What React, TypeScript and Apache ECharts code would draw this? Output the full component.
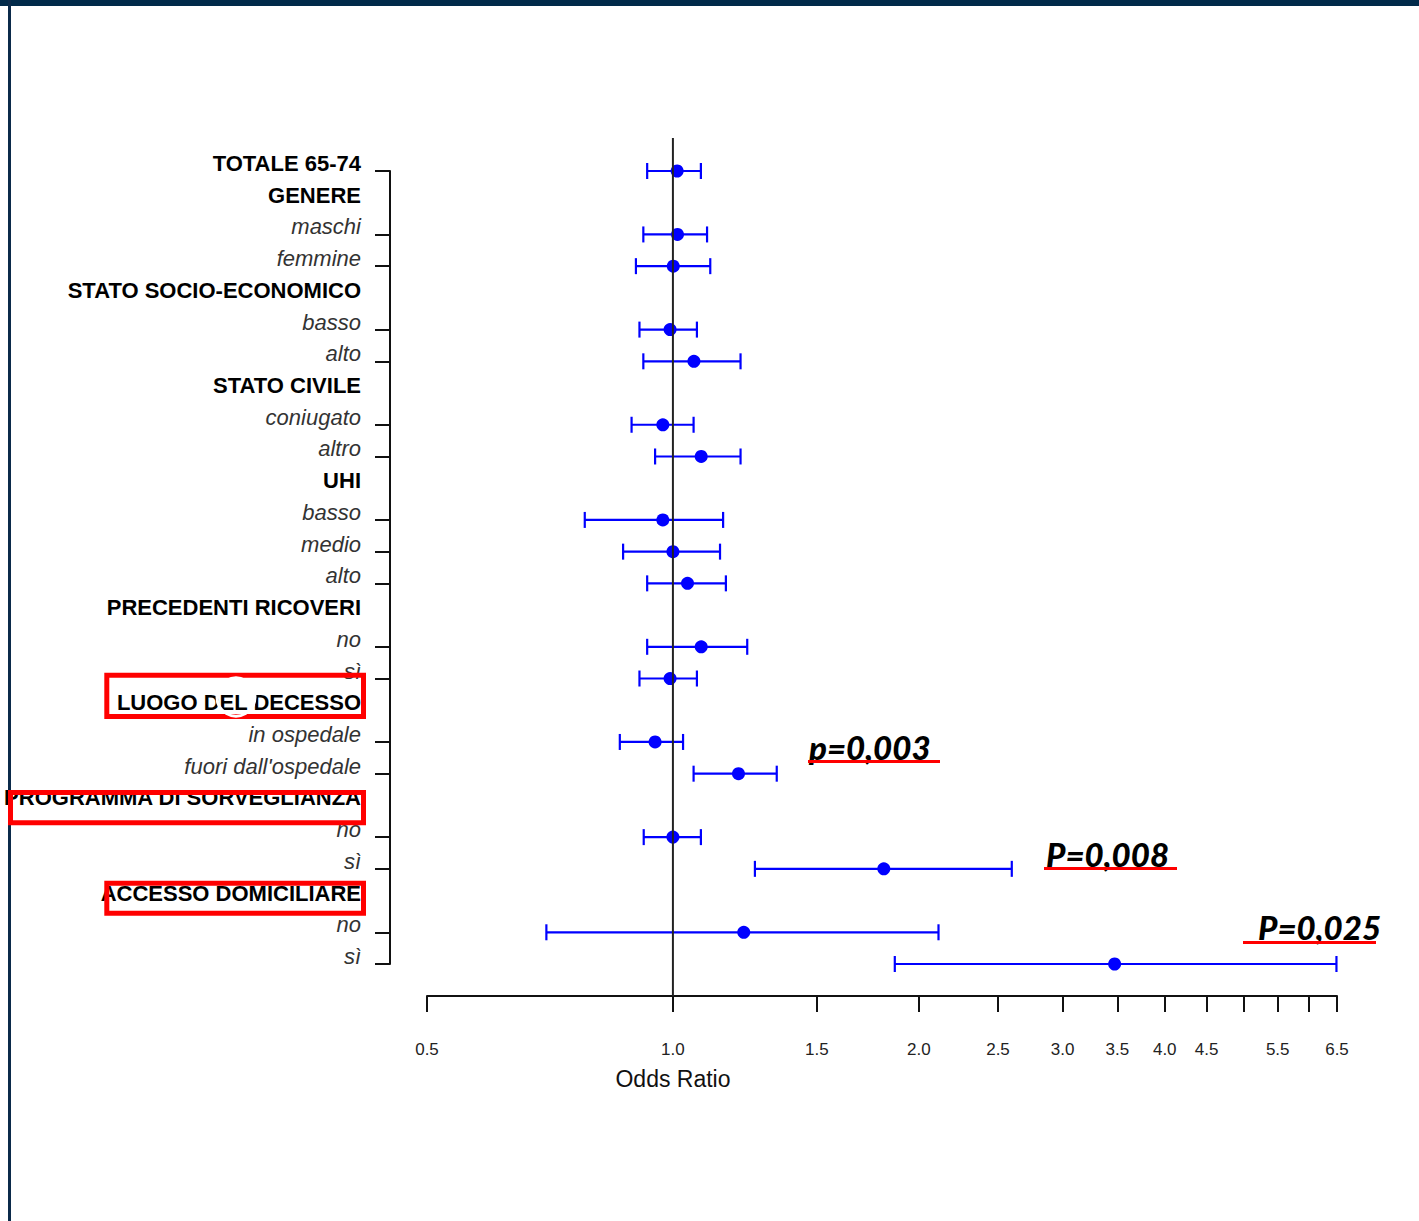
import React, { useEffect, useRef } from "react";
import * as echarts from "echarts";

const categories = [
  "TOTALE 65-74", "GENERE", "maschi", "femmine", "STATO SOCIO-ECONOMICO", "basso", "alto",
  "STATO CIVILE", "coniugato", "altro", "UHI", "basso", "medio", "alto",
  "PRECEDENTI RICOVERI", "no", "sì", "LUOGO DEL DECESSO", "in ospedale", "fuori dall'ospedale",
  "PROGRAMMA DI SORVEGLIANZA", "no", "sì", "ACCESSO DOMICILIARE", "no", "sì",
];
const headerRows = [0, 1, 4, 7, 10, 14, 17, 20, 23];

const oddsRatio = [1.012, null, 1.013, 1.001, null, 0.992, 1.061, null, 0.972, 1.083, null, 0.972, 1.0, 1.042, null, 1.083, 0.992, null, 0.951, 1.203, null, 1.0, 1.812, null, 1.221, 3.473];
const ciLower = [0.93, null, 0.92, 0.901, null, 0.91, 0.92, null, 0.89, 0.951, null, 0.78, 0.869, 0.93, null, 0.93, 0.91, null, 0.861, 1.06, null, 0.921, 1.26, null, 0.7, 1.869];
const ciUpper = [1.082, null, 1.101, 1.111, null, 1.07, 1.21, null, 1.06, 1.21, null, 1.152, 1.142, 1.161, null, 1.233, 1.07, null, 1.029, 1.34, null, 1.082, 2.599, null, 2.114, 6.49];

const xTicks = [0.5, 1.0, 1.5, 2.0, 2.5, 3.0, 3.5, 4.0, 4.5, 5.0, 5.5, 6.0, 6.5];
const xTickLabels = [0.5, 1.0, 1.5, 2.0, 2.5, 3.0, 3.5, 4.0, 4.5, 5.5, 6.5];
const xMin = 0.5;
const xMax = 6.5;
const referenceOR = 1.0;

const pValues = ["p=0,003", "P=0,008", "P=0,025"];

export default function App() {
  const ref = useRef<HTMLDivElement>(null);
  useEffect(() => {
    if (!ref.current) return;
    const chart = echarts.init(ref.current, null, { renderer: "svg" });
    const ln = Math.log;
    const barData: any[] = [];
    const pointData: any[] = [];
    oddsRatio.forEach((v, i) => {
      if (v == null) return;
      barData.push([ln(ciLower[i] as number), ln(ciUpper[i] as number), i]);
      pointData.push([ln(v), i]);
    });
    const blue = "#0000ff";
    const font = "Liberation Sans, Arial, sans-serif";
    const pFont = "italic 900 33px Lato, 'Open Sans', sans-serif";
    const red = "#ff0000";

    const option: any = {
      animation: false,
      backgroundColor: "#ffffff",
      grid: [
        { left: 427, right: 82, top: 171, bottom: 257 },
        { left: 427, right: 82, top: 138, bottom: 225 },
      ],
      xAxis: [
        { type: "value", gridIndex: 0, min: ln(xMin), max: ln(xMax), show: false },
        {
          type: "value",
          gridIndex: 1,
          min: ln(xMin),
          max: ln(xMax),
          splitLine: { show: false },
          axisLine: { show: true, onZero: false, lineStyle: { color: "#111", width: 2 } },
          axisTick: {
            show: true,
            length: 16,
            lineStyle: { color: "#111", width: 2 },
            customValues: xTicks.map((t) => ln(t)),
          },
          axisLabel: {
            customValues: xTickLabels.map((t) => ln(t)),
            formatter: (v: number) => Math.exp(v).toFixed(1),
            margin: 45,
            fontSize: 17,
            color: "#222",
            fontFamily: font,
          },
          name: "Odds Ratio",
          nameLocation: "middle",
          nameGap: 71,
          nameTextStyle: { fontSize: 23, color: "#111", fontFamily: font, padding: [0, 418, 0, 0] },
        },
      ],
      yAxis: [
        {
          type: "category",
          gridIndex: 0,
          data: categories,
          inverse: true,
          boundaryGap: false,
          offset: 37,
          axisLine: { show: true, onZero: false, lineStyle: { color: "#111", width: 2 } },
          axisTick: {
            show: true,
            length: 15,
            lineStyle: { color: "#111", width: 2 },
            interval: (index: number) => oddsRatio[index] != null,
          },
          axisLabel: {
            interval: 0,
            margin: 29,
            padding: [0, 0, 15, 0],
            formatter: (value: string, index: number) =>
              headerRows.includes(index) ? `{h|${value}}` : `{s|${value}}`,
            rich: {
              h: { fontSize: 22, fontWeight: "bold", color: "#000", fontFamily: font },
              s: { fontSize: 22, fontStyle: "italic", color: "#333", fontFamily: font },
            },
          },
          splitLine: { show: false },
        },
        { type: "value", gridIndex: 1, min: 0, max: 1, show: false },
      ],
      series: [
        {
          type: "custom",
          xAxisIndex: 0,
          yAxisIndex: 0,
          data: barData,
          encode: { x: [0, 1], y: 2 },
          renderItem: (params: any, api: any) => {
            const row = api.value(2);
            const p1 = api.coord([api.value(0), row]);
            const p2 = api.coord([api.value(1), row]);
            const cap = 8;
            const style = { stroke: blue, lineWidth: 2.2 };
            return {
              type: "group",
              children: [
                { type: "line", shape: { x1: p1[0], y1: p1[1], x2: p2[0], y2: p2[1] }, style },
                { type: "line", shape: { x1: p1[0], y1: p1[1] - cap, x2: p1[0], y2: p1[1] + cap }, style },
                { type: "line", shape: { x1: p2[0], y1: p2[1] - cap, x2: p2[0], y2: p2[1] + cap }, style },
              ],
            };
          },
          z: 2,
        },
        {
          type: "scatter",
          xAxisIndex: 0,
          yAxisIndex: 0,
          data: pointData,
          symbol: "circle",
          symbolSize: 13,
          itemStyle: { color: blue, opacity: 1 },
          z: 3,
        },
        {
          type: "line",
          xAxisIndex: 1,
          yAxisIndex: 1,
          data: [[ln(referenceOR), 0], [ln(referenceOR), 1]],
          symbol: "none",
          lineStyle: { color: "#222", width: 2 },
          z: 10,
        },
      ],
      graphic: [
        { type: "rect", z: 100, shape: { x: 0, y: 0, width: 1419, height: 6 }, style: { fill: "#012a4a" } },
        { type: "rect", z: 100, shape: { x: 8, y: 0, width: 3, height: 1221 }, style: { fill: "#0b2a4a" } },
        { type: "rect", z: 100, shape: { x: 106.8, y: 675.2, width: 256.7, height: 41.3 }, style: { fill: "none", stroke: red, lineWidth: 5 } },
        { type: "rect", z: 100, shape: { x: 10.5, y: 792.5, width: 353, height: 30.3 }, style: { fill: "none", stroke: red, lineWidth: 5 } },
        { type: "rect", z: 100, shape: { x: 106.8, y: 883.2, width: 256.7, height: 30 }, style: { fill: "none", stroke: red, lineWidth: 5 } },
        { type: "circle", z: 101, shape: { cx: 236, cy: 697, r: 19 }, style: { fill: "none", stroke: "#ffffff", lineWidth: 3 } },
        { type: "text", z: 100, x: 809, y: 747, style: { text: pValues[0], font: pFont, fill: "#000", align: "left", verticalAlign: "middle" } },
        { type: "rect", z: 100, shape: { x: 808, y: 760, width: 132, height: 3 }, style: { fill: red } },
        { type: "text", z: 100, x: 1046, y: 854, style: { text: pValues[1], font: pFont, fill: "#000", align: "left", verticalAlign: "middle" } },
        { type: "rect", z: 100, shape: { x: 1044, y: 867, width: 133, height: 3 }, style: { fill: red } },
        { type: "text", z: 100, x: 1258, y: 927, style: { text: pValues[2], font: pFont, fill: "#000", align: "left", verticalAlign: "middle" } },
        { type: "rect", z: 100, shape: { x: 1243, y: 941, width: 133, height: 3 }, style: { fill: red } },
      ],
    };
    chart.setOption(option);
    return () => chart.dispose();
  }, []);
  return (
    <div
      ref={ref}
      style={{ position: "fixed", left: 0, top: 0, width: 1419, height: 1221, background: "#fff" }}
    />
  );
}
